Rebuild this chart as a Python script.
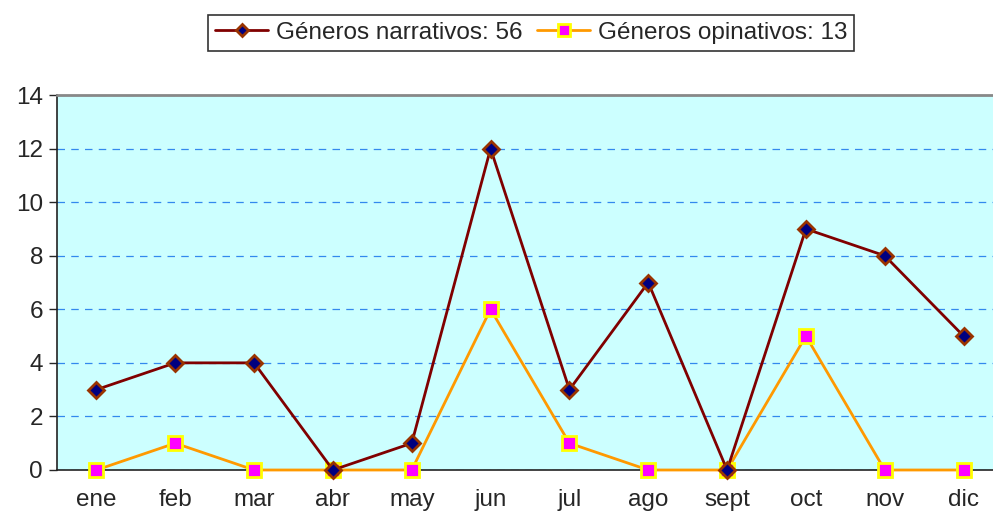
import pandas as pd, numpy as np, seaborn as sns
import matplotlib.pyplot as plt
from matplotlib.ticker import FixedLocator

months = ['ene', 'feb', 'mar', 'abr', 'may', 'jun', 'jul', 'ago', 'sept', 'oct', 'nov', 'dic']
narrativos = [3, 4, 4, 0, 1, 12, 3, 7, 0, 9, 8, 5]
opinativos = [0, 1, 0, 0, 0, 6, 1, 0, 0, 5, 0, 0]
labels = ['Géneros narrativos: 56', 'Géneros opinativos: 13']

sns.set_style('white')
plt.rcParams['font.family'] = ['Liberation Sans', 'DejaVu Sans']

df = pd.DataFrame({'mes': months, 'narr': narrativos, 'opin': opinativos})

fig = plt.figure(figsize=(9.93, 5.19), dpi=100)
ax = fig.add_axes([57/993, 1 - 470/519, 946/993, 375/519])
ax.set_facecolor('#CCFFFF')

sns.lineplot(data=df, x='mes', y='narr', sort=False, ax=ax, color='#800000', lw=2,
             marker='D', markersize=8, markerfacecolor='#000080',
             markeredgecolor='#993300', markeredgewidth=2, label=labels[0], zorder=4,
             clip_on=False)
sns.lineplot(data=df, x='mes', y='opin', sort=False, ax=ax, color='#FF9900', lw=2,
             marker='s', markersize=10, markerfacecolor='#FF00FF',
             markeredgecolor='#FFFF00', markeredgewidth=2, label=labels[1], zorder=3,
             clip_on=False)

ax.set_xlim(-0.5, len(months) - 0.5)
ax.set_ylim(0, 14)
ax.set_yticks(range(0, 15, 2))
ax.yaxis.grid(True, linestyle=(0, (6, 5)), color='#3388EE', lw=0.9)
ax.set_axisbelow(True)
ax.set_xlabel('')
ax.set_ylabel('')

ax.xaxis.set_minor_locator(FixedLocator(np.arange(-0.5, len(months), 1)))
ax.tick_params(axis='x', which='major', length=0, labelsize=17.5, pad=14)
ax.tick_params(axis='x', which='minor', length=6, width=1, color='#333333', direction='out')
ax.tick_params(axis='y', which='major', length=6, width=1, labelsize=17.5, pad=4, direction='out', left=True)

for s in ['left', 'bottom']:
    ax.spines[s].set_color('#222222')
    ax.spines[s].set_linewidth(1.2)
ax.spines['top'].set_color('#888888')
ax.spines['top'].set_linewidth(2)
ax.spines['right'].set_visible(False)

leg = ax.legend(loc='center', bbox_to_anchor=(531/993, 1 - 33/519), bbox_transform=fig.transFigure,
                ncol=2, frameon=True, fancybox=False, fontsize=17.5, handlelength=2.2,
                handletextpad=0.3, columnspacing=0.6, borderpad=0.3, markerscale=0.8)
leg.get_frame().set_edgecolor('black')
leg.get_frame().set_linewidth(1.2)

fig.savefig('out.png', dpi=100)
